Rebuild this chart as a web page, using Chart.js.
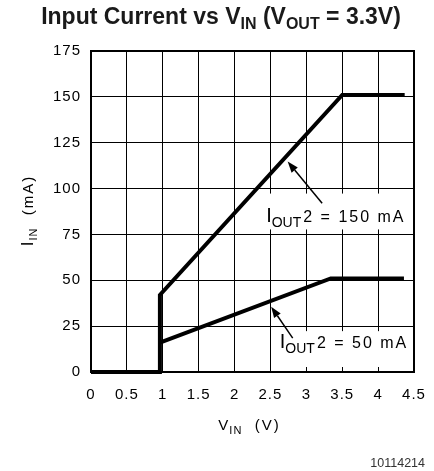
<!DOCTYPE html>
<html><head><meta charset="utf-8">
<script src="https://cdn.jsdelivr.net/npm/chart.js@4/dist/chart.umd.min.js"></script>
<style>html,body{margin:0;padding:0;background:#fff}canvas{display:block}</style>
</head><body>
<canvas id="c" width="434" height="471"></canvas>
<script>
// ---- data ----
const xTicks = [0, 0.5, 1, 1.5, 2, 2.5, 3, 3.5, 4, 4.5];
const yTicks = [0, 25, 50, 75, 100, 125, 150, 175];
const vin150 = [0, 0.96, 0.96, 3.5, 4.37];
const iin150 = [0, 0, 42, 151, 151];
const vin50 = [0.96, 3.34, 4.36];
const iin50 = [16, 51, 51];
const seriesNames = ['150 mA', '50 mA'];
// annotation anchors (data units)
const boxX150 = [2.4, 4.5], boxY150 = [75, 100];
const boxX50 = [2.5, 4.5], boxY50 = [0, 25];
const arrow150 = [[3.22, 92], [2.74, 114.7]];
const arrow50 = [[2.81, 18.5], [2.51, 35.6]];
const label150At = [2.44, 81.8];
const label50At = [2.63, 12.9];

const F = '"Liberation Sans", Arial, Helvetica, sans-serif';

function drawParts(ctx, x, y, parts) {
  for (const p of parts) {
    ctx.font = (p.bold ? 'bold ' : '') + p.size + 'px ' + F;
    ctx.letterSpacing = (p.ls || 0) + 'px';
    ctx.fillText(p.t, x, y + (p.dy || 0));
    x += ctx.measureText(p.t).width + (p.gap || 0);
  }
  return x;
}
function measureParts(ctx, parts) {
  let w = 0;
  for (const p of parts) {
    ctx.font = (p.bold ? 'bold ' : '') + p.size + 'px ' + F;
    ctx.letterSpacing = (p.ls || 0) + 'px';
    w += ctx.measureText(p.t).width + (p.gap || 0);
  }
  return w;
}

const annot = {
  id: 'annot',
  beforeDraw(chart) {
    chart.ctx.letterSpacing = '1px';
  },
  beforeDatasetsDraw(chart) {
    const {ctx, scales: {x, y}} = chart;
    ctx.save();
    ctx.fillStyle = '#fff';
    const inset = 5;
    let l = x.getPixelForValue(boxX150[0]), r = x.getPixelForValue(boxX150[1]) - 1;
    let t = y.getPixelForValue(boxY150[1]) + inset, b = y.getPixelForValue(boxY150[0]) - inset;
    ctx.fillRect(l, t, r - l, b - t);
    l = x.getPixelForValue(boxX50[0]) + 1; r = x.getPixelForValue(boxX50[1]) - 1;
    t = y.getPixelForValue(boxY50[1]) + inset; b = y.getPixelForValue(boxY50[0]) - inset;
    ctx.fillRect(l, t, r - l, b - t);
    ctx.restore();
  },
  afterDatasetsDraw(chart) {
    const {ctx, scales: {x, y}, chartArea: ca} = chart;
    ctx.save();
    ctx.letterSpacing = '0px';
    ctx.strokeStyle = '#000';
    ctx.lineWidth = 2;
    ctx.strokeRect(ca.left, ca.top, ca.right - ca.left, ca.bottom - ca.top);
    for (const a of [arrow150, arrow50]) {
      const x0 = x.getPixelForValue(a[0][0]), y0 = y.getPixelForValue(a[0][1]);
      const x1 = x.getPixelForValue(a[1][0]), y1 = y.getPixelForValue(a[1][1]);
      const ang = Math.atan2(y1 - y0, x1 - x0);
      const L = 11, W = 4;
      const bx = x1 - L * Math.cos(ang), by = y1 - L * Math.sin(ang);
      ctx.lineWidth = 1.5;
      ctx.beginPath(); ctx.moveTo(x0, y0); ctx.lineTo(bx, by); ctx.stroke();
      ctx.fillStyle = '#000';
      ctx.beginPath();
      ctx.moveTo(x1, y1);
      ctx.lineTo(bx + W * Math.sin(ang), by - W * Math.cos(ang));
      ctx.lineTo(bx - W * Math.sin(ang), by + W * Math.cos(ang));
      ctx.closePath(); ctx.fill();
    }
    ctx.fillStyle = '#000';
    ctx.textBaseline = 'alphabetic';
    ctx.textAlign = 'left';
    const lab = (at, val) => {
      const px = x.getPixelForValue(at[0]), py = y.getPixelForValue(at[1]);
      drawParts(ctx, px, py, [{t: 'I', size: 20}, {t: 'OUT', size: 14, dy: 5, gap: 2},
        {t: '2 = ' + val, size: 16, ls: 2}]);
    };
    lab(label150At, seriesNames[0]);
    lab(label50At, seriesNames[1]);

    // chart title
    ctx.fillStyle = '#1a1a1a';
    const tparts = [
      {t: 'Input Current vs V', size: 23, bold: true},
      {t: 'IN', size: 16, bold: true, dy: 5},
      {t: ' (V', size: 23, bold: true},
      {t: 'OUT', size: 16, bold: true, dy: 5},
      {t: ' = 3.3V)', size: 23, bold: true}
    ];
    const tw = measureParts(ctx, tparts);
    drawParts(ctx, 221 - tw / 2, 24, tparts);

    // x axis title
    ctx.fillStyle = '#000';
    const xparts = [{t: 'V', size: 15, ls: 1}, {t: 'IN', size: 11, dy: 4, ls: 1}, {t: '  (V)', size: 15, ls: 2}];
    const xw = measureParts(ctx, xparts);
    drawParts(ctx, (ca.left + ca.right) / 2 - 3 - xw / 2, 430, xparts);

    // y axis title
    const yparts = [{t: 'I', size: 17, ls: 1}, {t: 'IN', size: 11, dy: 4, ls: 1}, {t: '  (mA)', size: 15, ls: 2}];
    const yw = measureParts(ctx, yparts);
    ctx.translate(33, (ca.top + ca.bottom) / 2 - 1);
    ctx.rotate(-Math.PI / 2);
    drawParts(ctx, -yw / 2, 0, yparts);
    ctx.restore();

    ctx.save();
    ctx.letterSpacing = '0px';
    ctx.fillStyle = '#333';
    ctx.font = '12.5px ' + F;
    ctx.textAlign = 'right';
    ctx.fillText('10114214', 425, 467);
    ctx.restore();
  }
};

const mk = (xs, ys) => xs.map((v, i) => ({x: v, y: ys[i]}));
const lineStyle = {showLine: true, borderColor: '#000', backgroundColor: '#000', borderWidth: 4,
  pointRadius: 0, clip: false, borderJoinStyle: 'miter', borderCapStyle: 'butt', tension: 0};

const axisCommon = {
  grid: {color: '#000', lineWidth: 1, drawTicks: false},
  border: {color: '#000', width: 2},
};

new Chart(document.getElementById('c'), {
  type: 'scatter',
  data: {datasets: [
    Object.assign({label: seriesNames[0], data: mk(vin150, iin150)}, lineStyle),
    Object.assign({label: seriesNames[1], data: mk(vin50, iin50)}, lineStyle)
  ]},
  options: {
    responsive: false, animation: false, devicePixelRatio: 1,
    layout: {padding: {left: 0, right: 20, top: 51, bottom: 0}},
    plugins: {legend: {display: false}, tooltip: {enabled: false}, title: {display: false}},
    scales: {
      x: Object.assign({}, axisCommon, {
        type: 'linear', min: 0, max: 4.5,
        afterBuildTicks: s => { s.ticks = xTicks.map(v => ({value: v})); },
        ticks: {color: '#000', font: {family: F, size: 15}, padding: 14, maxRotation: 0, autoSkip: false,
          callback: v => String(v)},
        afterFit: s => { s.height = 99; s.paddingLeft = 0; s.paddingRight = 0; }
      }),
      y: Object.assign({}, axisCommon, {
        type: 'linear', min: 0, max: 175,
        afterBuildTicks: s => { s.ticks = yTicks.map(v => ({value: v})); },
        ticks: {color: '#000', font: {family: F, size: 15}, padding: 10, autoSkip: false,
          callback: v => String(v)},
        afterFit: s => { s.width = 91; s.paddingTop = 0; s.paddingBottom = 0; }
      })
    }
  },
  plugins: [annot]
});
</script>
</body></html>
